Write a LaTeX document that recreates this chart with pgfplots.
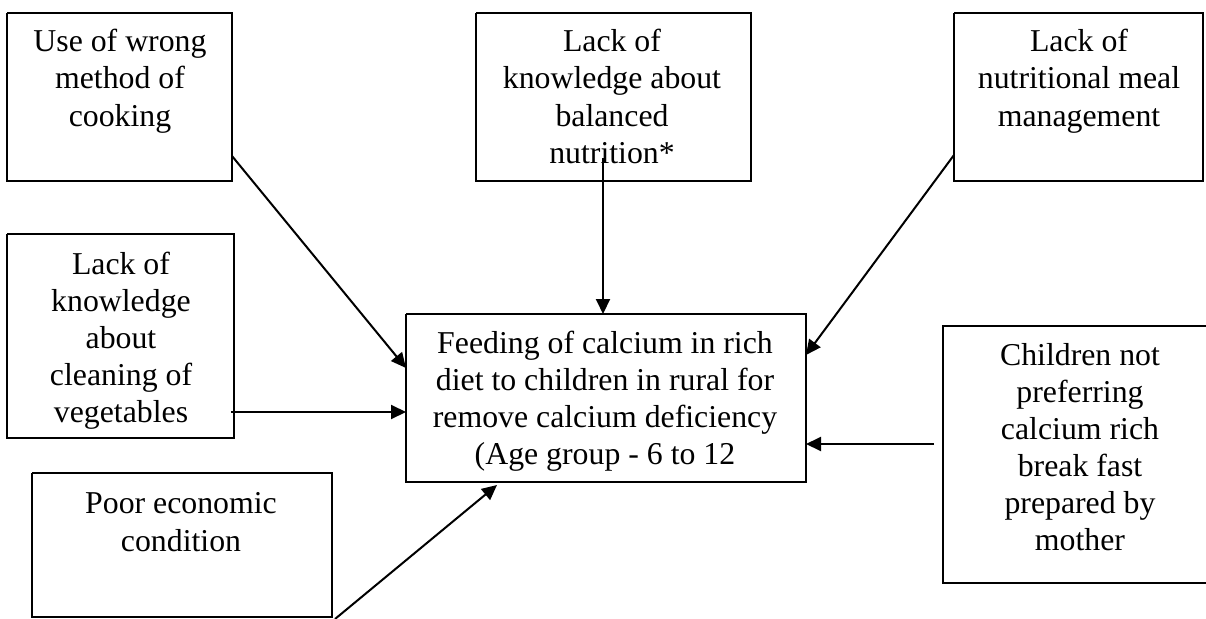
\documentclass[border=0pt]{standalone}
\usepackage{pgfplots}
\pgfplotsset{compat=1.18}
\usepackage{fontspec}
\setmainfont{Liberation Serif}
\usetikzlibrary{arrows.meta}
\tikzset{lab/.style={font=\fontsize{31.8bp}{37bp}\selectfont, inner sep=0pt, anchor=base},
  bx/.style={black, line width=1.6bp, no marks, line join=miter},
  ar/.style={black, line width=2bp, no marks, -{Triangle[length=15bp,width=14bp]}}}
\begin{document}
\begin{tikzpicture}
\begin{axis}[
  width=1206bp, height=619bp, scale only axis,
  xmin=0, xmax=1206, ymin=0, ymax=619, y dir=reverse,
  hide axis, clip=true,
]
% boxes
\addplot[bx] coordinates {(7,13)(232,13)(232,181)(7,181)(7,13)};
\addplot[bx] coordinates {(476,13)(751,13)(751,181)(476,181)(476,13)};
\addplot[bx] coordinates {(954,13)(1203,13)(1203,181)(954,181)(954,13)};
\addplot[bx] coordinates {(7,234)(234,234)(234,438)(7,438)(7,234)};
\addplot[bx] coordinates {(406,314)(806,314)(806,482)(406,482)(406,314)};
\addplot[bx] coordinates {(1206,326)(943,326)(943,583)(1206,583)};
\addplot[bx] coordinates {(32,473)(332,473)(332,617)(32,617)(32,473)};
% arrows
\addplot[ar] coordinates {(232,156)(406,368)};
\addplot[ar] coordinates {(603,158)(603,314)};
\addplot[ar] coordinates {(954,155)(806,355)};
\addplot[ar] coordinates {(231,412)(406,412)};
\addplot[ar] coordinates {(934,444)(806,444)};
\addplot[ar] coordinates {(335,619)(497,485)};
% texts
\node[lab] at (axis cs:120,52) {Use of wrong};
\node[lab] at (axis cs:120,89) {method of};
\node[lab] at (axis cs:120,126) {cooking};

\node[lab] at (axis cs:612,52) {Lack of};
\node[lab] at (axis cs:612,89) {knowledge about};
\node[lab] at (axis cs:612,126) {balanced};
\node[lab] at (axis cs:612,163) {nutrition*};

\node[lab] at (axis cs:1079,52) {Lack of};
\node[lab] at (axis cs:1079,89) {nutritional meal};
\node[lab] at (axis cs:1079,126) {management};

\node[lab] at (axis cs:121,274) {Lack of};
\node[lab] at (axis cs:121,311) {knowledge};
\node[lab] at (axis cs:121,348) {about};
\node[lab] at (axis cs:121,385) {cleaning of};
\node[lab] at (axis cs:121,422) {vegetables};

\node[lab] at (axis cs:605,353) {Feeding of calcium in rich};
\node[lab] at (axis cs:605,390) {diet to children in rural for};
\node[lab] at (axis cs:605,427) {remove calcium deficiency};
\node[lab] at (axis cs:605,464) {(Age group - 6 to 12};

\node[lab] at (axis cs:1080,365) {Children not};
\node[lab] at (axis cs:1080,402) {preferring};
\node[lab] at (axis cs:1080,439) {calcium rich};
\node[lab] at (axis cs:1080,476) {break fast};
\node[lab] at (axis cs:1080,513) {prepared by};
\node[lab] at (axis cs:1080,550) {mother};

\node[lab] at (axis cs:181,513) {Poor economic};
\node[lab] at (axis cs:181,551) {condition};
\end{axis}
\pgfresetboundingbox
\path (current axis.south west) rectangle (current axis.north east);
\end{tikzpicture}
\end{document}
